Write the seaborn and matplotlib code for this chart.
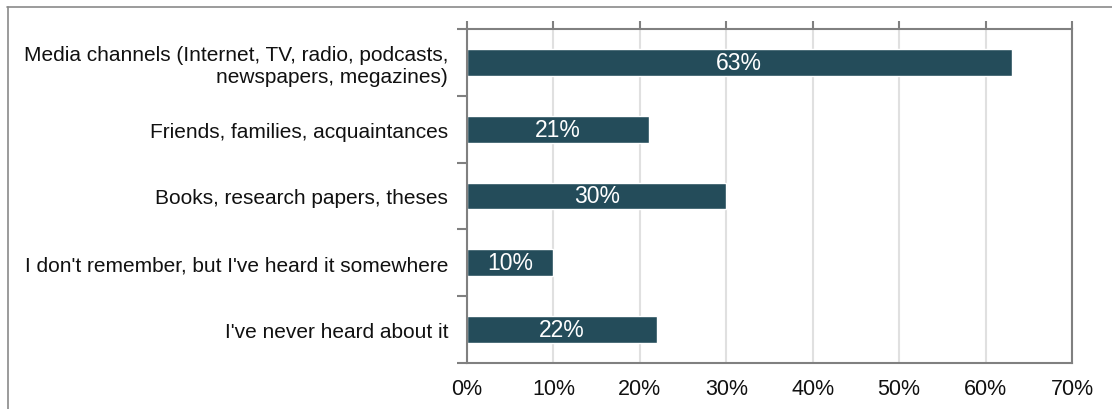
import matplotlib
matplotlib.use("Agg")
import matplotlib.pyplot as plt
import seaborn as sns
import pandas as pd
from matplotlib.lines import Line2D
from matplotlib.ticker import FixedLocator

categories = [
    "Media channels (Internet, TV, radio, podcasts,\nnewspapers, megazines)",
    "Friends, families, acquaintances",
    "Books, research papers, theses",
    "I don't remember, but I've heard it somewhere",
    "I've never heard about it",
]
values = [63, 21, 30, 10, 22]
xticks = [0, 10, 20, 30, 40, 50, 60, 70]

sns.set_theme(style="white")
plt.rcParams['font.family'] = ['Liberation Sans', 'DejaVu Sans']

df = pd.DataFrame({"cat": categories, "val": values})

fig = plt.figure(figsize=(11.12, 4.10), dpi=100)
ax = fig.add_axes([467/1112, 46/410, (1072-467)/1112, (364-30)/410])

sns.barplot(data=df, x="val", y="cat", orient="h", color="#244c5a",
            saturation=1, width=0.4, ax=ax)

ax.set_xlim(0, 70)
ax.set_ylim(4.5, -0.5)
ax.set_xlabel("")
ax.set_ylabel("")
ax.xaxis.set_major_locator(FixedLocator(xticks))
ax.set_xticklabels([f"{t}%" for t in xticks], fontsize=15.5, color="#111111")
ax.tick_params(axis="x", bottom=False, top=True, direction="out", length=6,
               width=1.5, color="#808080", labelbottom=True, labeltop=False, pad=5)
ax.tick_params(axis="y", which="major", left=False, labelsize=15, labelcolor="#111111", pad=7.5)
for lab in ax.get_yticklabels():
    lab.set_linespacing(1.15)
ax.yaxis.set_minor_locator(FixedLocator([-0.5, 0.5, 1.5, 2.5, 3.5, 4.5]))
ax.tick_params(axis="y", which="minor", left=True, direction="out", length=7,
               width=1.5, color="#808080")
ax.grid(axis="x", color="#e0e0e0", linewidth=1.5)
ax.set_axisbelow(True)
for s in ax.spines.values():
    s.set_color("#808080")
    s.set_linewidth(1.5)
    s.set_visible(True)

for i, v in enumerate(values):
    ax.text(v / 2, i, f"{v}%", ha="center", va="center", color="white", fontsize=16.5)

# outer frame lines (top and left)
fig.add_artist(Line2D([7/1112, 1], [1 - 7.5/410, 1 - 7.5/410], color="#8a8a8a", linewidth=1.2,
                      transform=fig.transFigure))
fig.add_artist(Line2D([7.5/1112, 7.5/1112], [0, 1 - 7.5/410], color="#8a8a8a", linewidth=1.2,
                      transform=fig.transFigure))

fig.savefig("out.png", dpi=100, facecolor="white")
